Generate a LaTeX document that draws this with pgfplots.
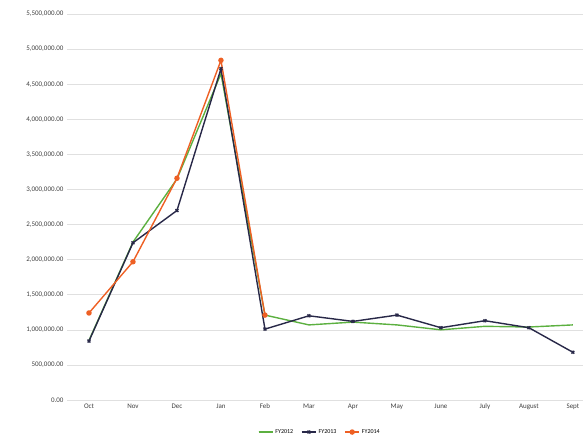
\documentclass[border=0pt]{standalone}
\usepackage{pgfplots}
\pgfplotsset{compat=1.18}
\usepackage{fontspec}
\setmainfont{Carlito}
\begin{document}
\begin{tikzpicture}
\definecolor{fyA}{RGB}{92,176,64}
\definecolor{fyB}{RGB}{40,40,72}
\definecolor{fyC}{RGB}{238,96,36}
\begin{axis}[
  scale only axis,
  width=516pt, height=386pt,
  xmin=-0.5, xmax=11.23,
  ymin=0, ymax=5500000,
  ytick distance=500000,
  xtick={0,...,11},
  xticklabels={Oct,Nov,Dec,Jan,Feb,Mar,Apr,May,June,July,August,Sept},
  scaled y ticks=false,
  /pgf/number format/.cd, fixed, fixed zerofill, precision=2, 1000 sep={,}, assume math mode=true,
  /pgfplots/.cd,
  tick label style={font=\fontsize{7}{8}\selectfont, text=black!75},
  major tick length=0pt,
  axis line style={draw=none},
  ymajorgrids,
  grid style={black!12, line width=0.6pt},
  legend style={at={(0.49,-0.083)}, anchor=center, draw=none,
    legend columns=3, font=\fontsize{6}{7}\selectfont,
    /tikz/every even column/.append style={column sep=6pt}},
  legend image code/.code={\draw[#1] (0pt,0pt) -- (14pt,0pt); \path[#1,mark repeat=2,mark phase=2] plot coordinates {(0pt,0pt) (7pt,0pt) (14pt,0pt)};},
  clip=false,
]
\addplot[fyA, line width=1.4pt, mark=none] coordinates {
 (0,850000) (1,2250000) (2,3150000) (3,4650000) (4,1210000) (5,1070000)
 (6,1110000) (7,1070000) (8,1000000) (9,1050000) (10,1040000) (11,1070000)};
\addplot[fyB, line width=1.4pt, mark=x, mark size=2pt] coordinates {
 (0,840000) (1,2240000) (2,2700000) (3,4720000) (4,1010000) (5,1200000)
 (6,1120000) (7,1210000) (8,1030000) (9,1130000) (10,1030000) (11,680000)};
\addplot[fyC, line width=1.4pt, mark=*, mark size=2pt] coordinates {
 (0,1240000) (1,1970000) (2,3160000) (3,4840000) (4,1210000)};
\legend{FY2012,FY2013,FY2014}
\end{axis}
\pgfresetboundingbox
\path[use as bounding box] (-67pt,-40pt) rectangle (516pt,400pt);
\end{tikzpicture}
\end{document}
